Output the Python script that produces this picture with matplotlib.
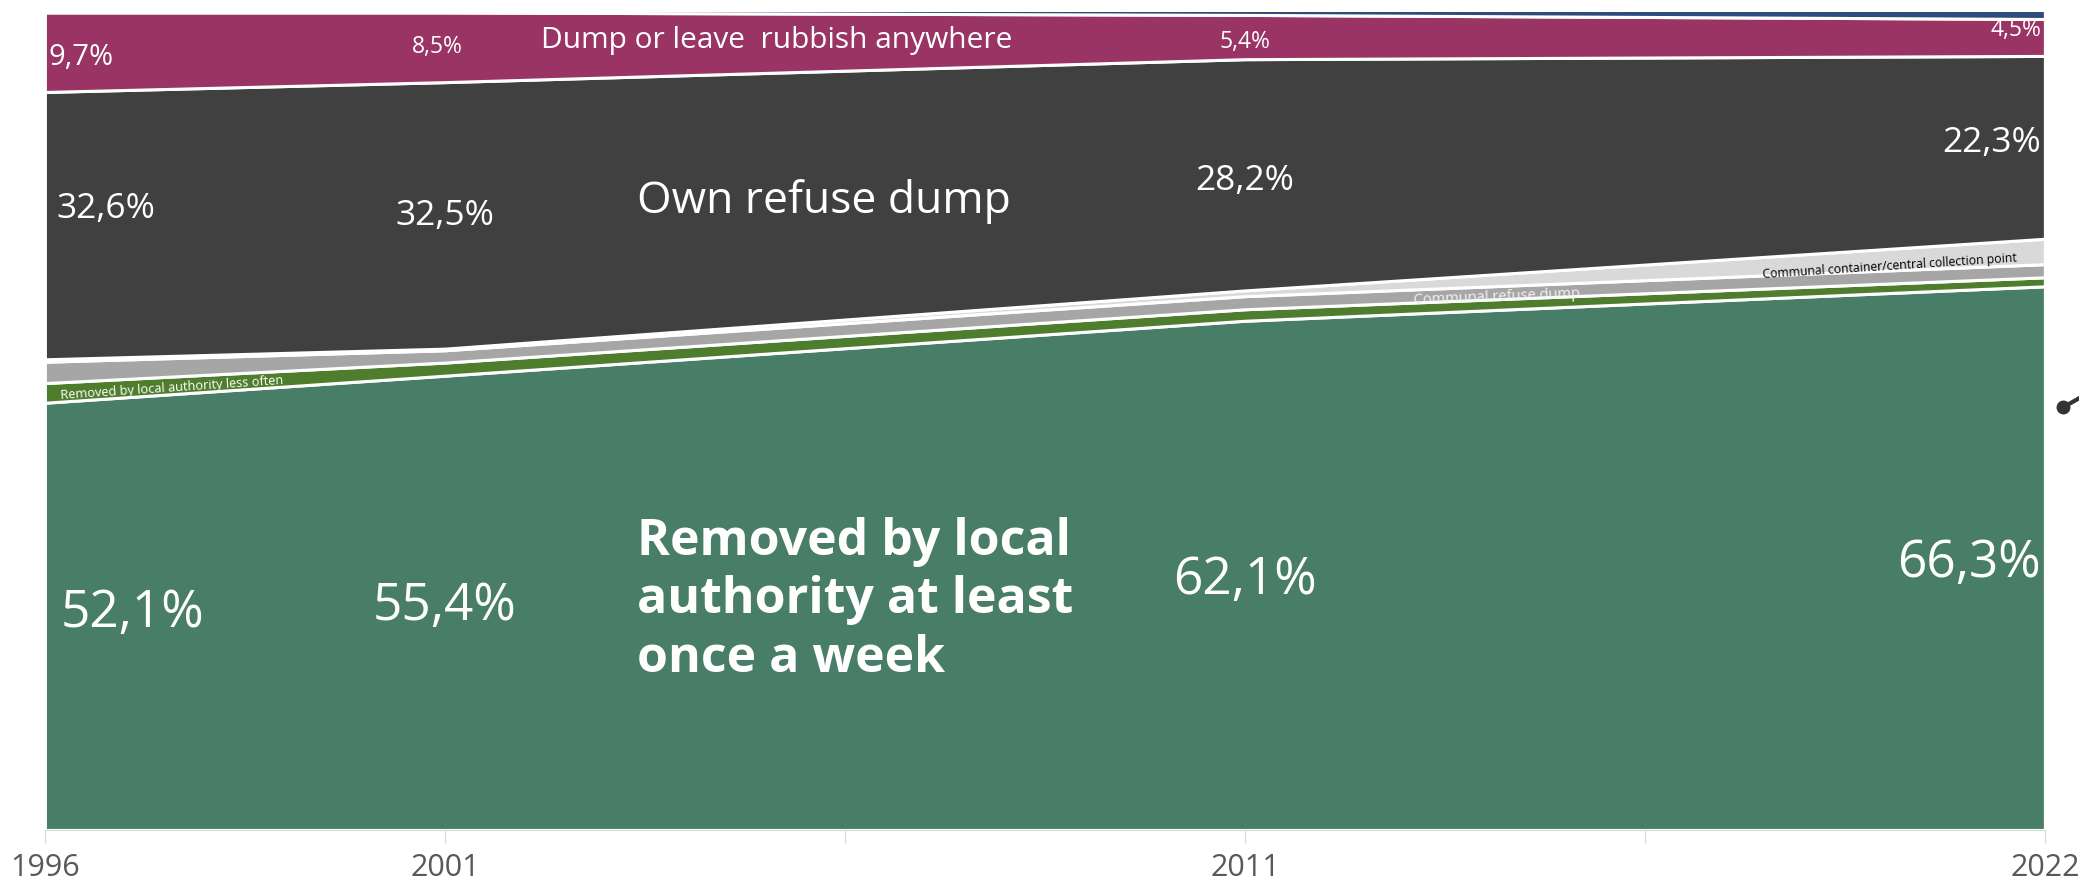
import numpy as np
import matplotlib
matplotlib.use("Agg")
from matplotlib import pyplot as plt
from matplotlib.lines import Line2D

plt.rcParams['font.family'] = ['Open Sans', 'DejaVu Sans']

# census years and their (uneven) positions on the axis
YEARS = ['1996', '2001', '2011', '2022']
XPOS = [0, 1, 3, 5]

# shares in percent, bottom to top
WEEKLY = [52.1, 55.4, 62.1, 66.3]
LESS_OFTEN = [2.4, 1.6, 1.4, 1.1]
COMMUNAL_DUMP = [2.6, 1.5, 1.6, 1.6]
COMMUNAL_CONTAINER = [0.3, 0.2, 0.7, 3.1]
OWN_DUMP = [32.6, 32.5, 28.2, 22.3]
ANYWHERE = [9.7, 8.5, 5.4, 4.5]
OTHER = [0.3, 0.3, 0.6, 1.1]

COLORS = ['#487d67', '#4f7d2e', '#a6a6a6', '#d9d9d9', '#404040', '#993464', '#2e4b7c']


def pct(v):
    return f"{v:.1f}%".replace('.', ',')


fig = plt.figure(figsize=(20.79, 8.91), dpi=100)
ax = fig.add_axes([0.0216, 0.0685, 0.962, 0.9203])

layers = [WEEKLY, LESS_OFTEN, COMMUNAL_DUMP, COMMUNAL_CONTAINER, OWN_DUMP, ANYWHERE, OTHER]
ax.stackplot(XPOS, *layers, colors=COLORS, edgecolor='white', linewidth=2.2)
ax.set_xlim(0, 5)
ax.set_ylim(0, 100)

cum = np.cumsum(np.array(layers), axis=0)

for s in ['top', 'left', 'right']:
    ax.spines[s].set_visible(False)
ax.spines['bottom'].set_color('#d9d9d9')
ax.set_yticks([])
ax.set_xticks(range(6))
ax.set_xticklabels(['1996', '2001', '', '2011', '', '2022'])
ax.tick_params(axis='x', length=9.5, color='#d9d9d9', labelsize=22,
               labelcolor='#595959', pad=7)


def angle(i, x0, x1):
    # slope of layer boundary i between two data positions, in screen degrees
    y0 = np.interp(x0, XPOS, cum[i])
    y1 = np.interp(x1, XPOS, cum[i])
    p0 = ax.transData.transform((x0, y0))
    p1 = ax.transData.transform((x1, y1))
    return np.degrees(np.arctan2(p1[1] - p0[1], p1[0] - p0[0]))


# green layer labels
ax.text(0.04, 26.4, pct(WEEKLY[0]), color='white', fontsize=37, va='center', ha='left')
ax.text(1, 27.2, pct(WEEKLY[1]), color='white', fontsize=37, va='center', ha='center')
ax.text(3, 30.4, pct(WEEKLY[2]), color='white', fontsize=37, va='center', ha='center')
ax.text(4.99, 32.5, pct(WEEKLY[3]), color='white', fontsize=37, va='center', ha='right')
ax.text(1.48, 28.0, 'Removed by local\nauthority at least\nonce a week', color='white',
        fontsize=36, fontweight='bold', va='center', ha='left', linespacing=1.22)

# own refuse dump labels
ax.text(0.03, 75.7, pct(OWN_DUMP[0]), color='white', fontsize=25.5, va='center', ha='left')
ax.text(1, 74.9, pct(OWN_DUMP[1]), color='white', fontsize=25.5, va='center', ha='center')
ax.text(3, 79.1, pct(OWN_DUMP[2]), color='white', fontsize=25.5, va='center', ha='center')
ax.text(4.99, 83.8, pct(OWN_DUMP[3]), color='white', fontsize=25.5, va='center', ha='right')
ax.text(1.48, 76.6, 'Own refuse dump', color='white', fontsize=32, va='center', ha='left')

# dump anywhere labels
ax.text(0.01, 94.2, pct(ANYWHERE[0]), color='white', fontsize=21, va='center', ha='left')
ax.text(0.98, 95.5, pct(ANYWHERE[1]), color='white', fontsize=16.5, va='center', ha='center')
ax.text(3, 96.1, pct(ANYWHERE[2]), color='white', fontsize=16.5, va='center', ha='center')
ax.text(4.99, 97.6, pct(ANYWHERE[3]), color='white', fontsize=16.5, va='center', ha='right')
ax.text(1.24, 96.3, 'Dump or leave  rubbish anywhere', color='white', fontsize=21.5,
        va='center', ha='left')

# thin band labels
ax.text(0.04, 53.0, 'Removed by local authority less often', color='white', fontsize=9.2,
        va='center', ha='left', rotation=angle(0, 0, 1), rotation_mode='anchor')
ax.text(3.63, 65.0, 'Communal refuse dump', color='#f2f2f2', fontsize=10.5,
        va='center', ha='center', rotation=angle(2, 3, 5), rotation_mode='anchor')
ax.text(4.93, 69.8, 'Communal container/central collection point', color='black',
        fontsize=8.8, va='center', ha='right', rotation=angle(3, 3, 5), rotation_mode='anchor')

# small pointer stub at the right edge
fig.add_artist(Line2D([0.9925, 1.0], [0.543, 0.553], transform=fig.transFigure,
                      color='#333333', linewidth=3))
fig.add_artist(Line2D([0.9925], [0.543], transform=fig.transFigure, marker='o',
                      markersize=9, color='#333333'))

fig.savefig('out.png', dpi=100)
